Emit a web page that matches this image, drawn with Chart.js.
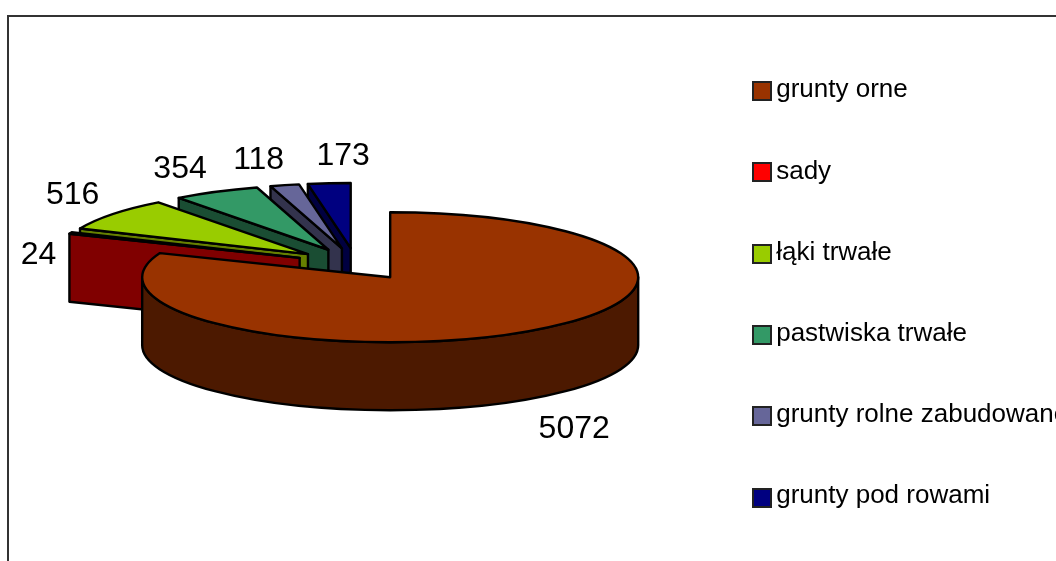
<!DOCTYPE html>
<html><head><meta charset="utf-8">
<style>html,body{margin:0;padding:0;background:#fff;overflow:hidden}#w{position:relative;width:1056px;height:561px}</style>
<script src="https://cdn.jsdelivr.net/npm/chart.js@4"></script>
</head><body><div id="w"><canvas id="c"></canvas></div>
<script>
const categories = ['grunty orne','sady','łąki trwałe','pastwiska trwałe','grunty rolne zabudowane','grunty pod rowami'];
const values = [5072,24,516,354,118,173];
const colors = ['#993300','#FF0000','#99CC00','#339966','#666699','#000080'];
const sideColors = ['#4C1900','#800000','#668000','#1A4D33','#33334D','#000040'];

const CX=356, CY=264, R=248, TILT=65/248, DEPTH=68, EXPLODE=61;
const NUDGE=[[45,98],[-32,22],[-40,-19],[-36,-23],[-26,-25],[14,-27]];

const pie3d={
  id:'pie3d',
  beforeDatasetDraw(){return false;},
  afterLayout(chart){
    const l=chart.legend; const w=l.width; l.left=708; l.right=708+w; l.top=22; l.bottom=22+l.height;
  },
  afterDatasetsDraw(chart){
    const ctx=chart.ctx, arcs=chart.getDatasetMeta(0).data;
    const geo=a=>{const m=(a.startAngle+a.endAngle)/2;
      const ax=CX+EXPLODE*Math.cos(m), ay=CY+EXPLODE*Math.sin(m)*TILT;
      const rim=t=>[ax+R*Math.cos(t),ay+R*Math.sin(t)*TILT];
      return {ax,ay,rim,s:a.startAngle,e:a.endAngle,m};};
    ctx.save();
    ctx.lineWidth=2.4; ctx.strokeStyle='#000'; ctx.lineJoin='round';
    const paint=()=>{ctx.fill();ctx.stroke();};
    for(const i of [5,4,3,2,1,0]){
      const g=geo(arcs[i]);
      ctx.fillStyle=sideColors[i];
      if(i===0){
        ctx.beginPath();
        ctx.ellipse(g.ax,g.ay,R,R*TILT,0,0,Math.PI);
        ctx.lineTo(g.ax-R,g.ay+DEPTH);
        ctx.ellipse(g.ax,g.ay+DEPTH,R,R*TILT,0,Math.PI,0,true);
        ctx.closePath(); paint();
      }else{
        const p=g.rim(g.s);
        ctx.beginPath();
        ctx.moveTo(g.ax,g.ay);ctx.lineTo(p[0],p[1]);ctx.lineTo(p[0],p[1]+DEPTH);ctx.lineTo(g.ax,g.ay+DEPTH);
        ctx.closePath(); paint();
      }
      ctx.fillStyle=colors[i];
      ctx.beginPath();
      ctx.moveTo(g.ax,g.ay);
      ctx.ellipse(g.ax,g.ay,R,R*TILT,0,g.s,g.e);
      ctx.closePath(); paint();
    }
    ctx.fillStyle='#000';
    ctx.font='32px "Liberation Sans"';
    ctx.textAlign='center';ctx.textBaseline='middle';
    arcs.forEach((a,i)=>{
      const g=geo(a);
      const x=CX+(R+EXPLODE)*Math.cos(g.m), y=CY+(R+EXPLODE)*Math.sin(g.m)*TILT;
      ctx.fillText(String(values[i]),x+NUDGE[i][0],y+NUDGE[i][1]);
    });
    ctx.restore();
  },
  afterDraw(chart){
    const ctx=chart.ctx;
    ctx.save();
    ctx.strokeStyle='#333';ctx.lineWidth=2;
    ctx.beginPath();ctx.moveTo(8,561);ctx.lineTo(8,16);ctx.lineTo(1056,16);ctx.stroke();
    ctx.lineWidth=2;ctx.strokeStyle='#222';
    chart.legend.legendItems.forEach((it,i)=>{
      const y=Math.round(82+i*81.3);
      ctx.fillStyle=it.fillStyle;
      ctx.fillRect(753,y,18,18);ctx.strokeRect(753,y,18,18);
    });
    ctx.restore();
  }
};

new Chart(document.getElementById('c'),{
  type:'pie',
  data:{labels:categories,datasets:[{data:values,backgroundColor:colors,borderColor:'#000',borderWidth:0}]},
  options:{
    responsive:true,maintainAspectRatio:false,animation:false,
    plugins:{
      tooltip:{enabled:false},
      legend:{position:'right',align:'start',labels:{boxWidth:0,boxHeight:18,padding:55.2,color:'#000',font:{family:'"Liberation Sans"',size:26}}}
    }
  },
  plugins:[pie3d]
});
</script></body></html>
